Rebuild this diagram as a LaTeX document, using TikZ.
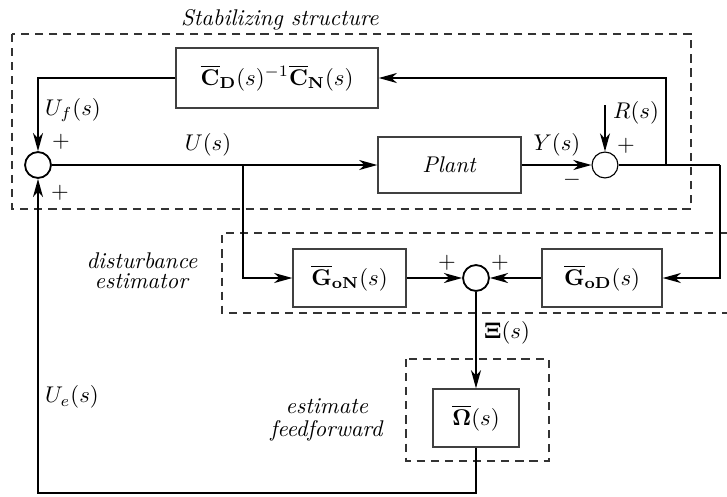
\documentclass[tikz,border=0pt]{standalone}
\usepackage{amsmath, amssymb}
\usepackage{tikz}
\usetikzlibrary{calc, arrows.meta, positioning}

\tikzset{
    blk/.style={draw=black!75, line width=0.6pt, inner sep=0pt, minimum height=25.5pt},
    sumnode/.style={circle, draw, line width=0.8pt, minimum size=11.4pt, inner sep=0pt},
    sig/.style={line width=0.8pt},
    frame/.style={line width=0.5pt, dash pattern=on 3.6pt off 2.6pt, black!80},
}

\begin{document}
\begin{tikzpicture}[x=0.44pt, y=-0.44pt, >={Stealth[length=8pt, width=4.4pt, inset=2.4pt]}]
    \useasboundingbox (0,0) rectangle (727,496);
    % =================================================================
    % 1. Dashed frames
    % =================================================================
    \draw[frame] (12,34) rectangle (691,209);
    \draw[frame] (727,233) -- (222,233) -- (222,313) -- (727,313);
    \draw[frame] (406,359) rectangle (549,461);
    \node (tstab) at (280,20) {\textit{Stabilizing structure}};
    \node[align=center] (tdist) at (142,271) {\textit{disturbance}\\[-3pt]\textit{estimator}};
    \node[align=center] (tff) at (327,420) {\textit{estimate}\\[-2pt]\textit{feedforward}};

    % =================================================================
    % 2. Blocks and summing junctions
    % =================================================================
    \node[blk, minimum width=88.9pt, minimum height=26.4pt] (cd) at (277,78)
        {$\overline{\mathbf{C}}_{\mathbf{D}}(s)^{-1}\overline{\mathbf{C}}_{\mathbf{N}}(s)$};
    \node[blk, minimum width=62.9pt, minimum height=24.6pt] (plant) at (449.5,165) {\textit{Plant}};
    \node[blk, minimum width=49.7pt] (gon) at (349.5,278) {$\overline{\mathbf{G}}_{\mathbf{oN}}(s)$};
    \node[blk, minimum width=52.8pt] (god) at (602,278) {$\overline{\mathbf{G}}_{\mathbf{oD}}(s)$};
    \node[blk, minimum width=37.8pt] (om) at (476,418) {$\overline{\mathbf{\Omega}}(s)$};

    \node[sumnode] (sumL) at (38,165) {};
    \node[sumnode, line width=0.5pt] (sumR) at (605,165) {};
    \node[sumnode] (sumM) at (476,278) {};

    % branch points and free ends
    \coordinate (rin) at (605,105);
    \coordinate (tap) at (666,165);
    \coordinate (out) at (720,165);
    \coordinate (utap) at (243,165);
    \coordinate (bot) at (476,493);

    % =================================================================
    % 3. Signals
    % =================================================================
    \draw[sig,->] (sumL) -- (plant);
    \draw[sig,->] (plant) -- (sumR);
    \draw[sig,->] (rin) -- (sumR);
    \draw[sig] (sumR) -- (out);
    \draw[sig,->] (out) |- (god);
    \draw[sig,->] (tap) |- (cd);
    \draw[sig,->] (cd) -| (sumL);
    \draw[sig,->] (utap) |- (gon);
    \draw[sig,->] (gon) -- (sumM);
    \draw[sig,->] (god) -- (sumM);
    \draw[sig,->] (sumM) -- (om);
    \draw[sig,->] (om) -- (bot) -| (sumL);

    % signal names and signs
    \node (luf) at (73,110) {$U_f(s)$};
    \node (lu) at (208,145) {$U(s)$};
    \node (ly) at (557,145) {$Y(s)$};
    \node (lr) at (636,113) {$R(s)$};
    \node (lxi) at (507,333) {$\mathbf{\Xi}(s)$};
    \node (lue) at (72,397) {$U_e(s)$};
    \node (pL1) at (61,142) {$+$};
    \node (pL2) at (60,193) {$+$};
    \node (pR) at (626,146) {$+$};
    \node (mR) at (572,180) {$-$};
    \node (pM1) at (447,263) {$+$};
    \node (pM2) at (500,263) {$+$};
\end{tikzpicture}
\end{document}
